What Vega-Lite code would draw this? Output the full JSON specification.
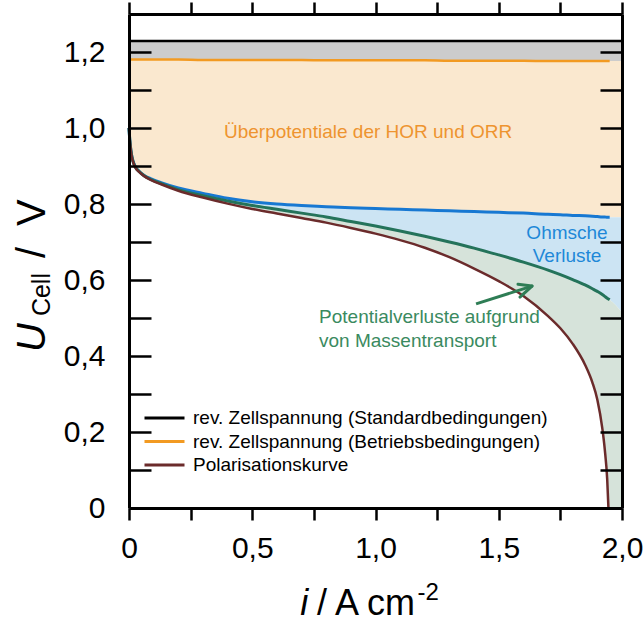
{
  "$schema": "https://vega.github.io/schema/vega-lite/v6.json",
  "width": 493,
  "height": 494,
  "autosize": {"type": "none"},
  "padding": {"left": 129, "top": 14, "right": 22, "bottom": 118},
  "config": {
    "view": {"stroke": null},
    "font": "Liberation Sans",
    "text": {"font": "Liberation Sans"}
  },
  "datasets": {
    "curves": [
      {"i": 0, "std": 1.229, "op": 1.18, "kin": 1.0, "ohm": 1.0, "pol": 1.0},
      {"i": 0.003, "std": 1.229, "op": 1.18, "kin": 0.97, "ohm": 0.97, "pol": 0.97},
      {"i": 0.006, "std": 1.229, "op": 1.18, "kin": 0.95, "ohm": 0.95, "pol": 0.949},
      {"i": 0.01, "std": 1.229, "op": 1.18, "kin": 0.931, "ohm": 0.93, "pol": 0.929},
      {"i": 0.015, "std": 1.229, "op": 1.18, "kin": 0.916, "ohm": 0.915, "pol": 0.914},
      {"i": 0.025, "std": 1.229, "op": 1.18, "kin": 0.899, "ohm": 0.898, "pol": 0.897},
      {"i": 0.04, "std": 1.229, "op": 1.18, "kin": 0.887, "ohm": 0.886, "pol": 0.885},
      {"i": 0.06, "std": 1.229, "op": 1.18, "kin": 0.876, "ohm": 0.875, "pol": 0.874},
      {"i": 0.09, "std": 1.229, "op": 1.18, "kin": 0.866, "ohm": 0.864, "pol": 0.863},
      {"i": 0.13, "std": 1.229, "op": 1.18, "kin": 0.856, "ohm": 0.854, "pol": 0.852},
      {"i": 0.2, "std": 1.229, "op": 1.18, "kin": 0.842, "ohm": 0.838, "pol": 0.835},
      {"i": 0.3, "std": 1.229, "op": 1.179, "kin": 0.828, "ohm": 0.822, "pol": 0.817},
      {"i": 0.4, "std": 1.229, "op": 1.179, "kin": 0.815, "ohm": 0.808, "pol": 0.801},
      {"i": 0.5, "std": 1.229, "op": 1.179, "kin": 0.806, "ohm": 0.796, "pol": 0.787},
      {"i": 0.6, "std": 1.229, "op": 1.179, "kin": 0.8, "ohm": 0.786, "pol": 0.775},
      {"i": 0.7, "std": 1.229, "op": 1.179, "kin": 0.796, "ohm": 0.776, "pol": 0.763},
      {"i": 0.8, "std": 1.229, "op": 1.178, "kin": 0.793, "ohm": 0.766, "pol": 0.751},
      {"i": 0.9, "std": 1.229, "op": 1.178, "kin": 0.79, "ohm": 0.754, "pol": 0.737},
      {"i": 1.0, "std": 1.229, "op": 1.178, "kin": 0.788, "ohm": 0.742, "pol": 0.722},
      {"i": 1.1, "std": 1.229, "op": 1.178, "kin": 0.786, "ohm": 0.729, "pol": 0.705},
      {"i": 1.2, "std": 1.229, "op": 1.178, "kin": 0.784, "ohm": 0.715, "pol": 0.685},
      {"i": 1.3, "std": 1.229, "op": 1.177, "kin": 0.782, "ohm": 0.7, "pol": 0.66},
      {"i": 1.4, "std": 1.229, "op": 1.177, "kin": 0.78, "ohm": 0.684, "pol": 0.63},
      {"i": 1.5, "std": 1.229, "op": 1.177, "kin": 0.778, "ohm": 0.666, "pol": 0.597},
      {"i": 1.6, "std": 1.229, "op": 1.177, "kin": 0.776, "ohm": 0.647, "pol": 0.558},
      {"i": 1.7, "std": 1.229, "op": 1.176, "kin": 0.773, "ohm": 0.626, "pol": 0.505},
      {"i": 1.75, "std": 1.229, "op": 1.176, "kin": 0.772, "ohm": 0.614, "pol": 0.473},
      {"i": 1.8, "std": 1.229, "op": 1.176, "kin": 0.77, "ohm": 0.601, "pol": 0.432},
      {"i": 1.85, "std": 1.229, "op": 1.176, "kin": 0.769, "ohm": 0.587, "pol": 0.377},
      {"i": 1.88, "std": 1.229, "op": 1.176, "kin": 0.768, "ohm": 0.577, "pol": 0.33},
      {"i": 1.9, "std": 1.229, "op": 1.176, "kin": 0.767, "ohm": 0.57, "pol": 0.285},
      {"i": 1.92, "std": 1.229, "op": 1.176, "kin": 0.766, "ohm": 0.562, "pol": 0.21},
      {"i": 1.93, "std": 1.229, "op": 1.176, "kin": 0.766, "ohm": 0.557, "pol": 0.155},
      {"i": 1.94, "std": 1.229, "op": 1.176, "kin": 0.765, "ohm": 0.552, "pol": 0.075},
      {"i": 1.945, "std": 1.229, "op": 1.176, "kin": 0.765, "ohm": 0.55, "pol": 0.0},
      {"i": 1.95, "std": 1.229, "op": 1.176, "kin": 0.765, "ohm": 0.548, "pol": 0.0},
      {"i": 2.0, "std": 1.229, "op": 1.176, "kin": 0.765, "ohm": 0.515, "pol": 0.0}
    ]
  },
  "data": {"name": "curves"},
  "layer": [
    {
      "layer": [
        {
          "mark": {"type": "area", "color": "#CCCCCC", "interpolate": "monotone"},
          "encoding": {
            "x": {
              "field": "i", "type": "quantitative",
              "scale": {"domain": [0, 2], "nice": false, "zero": false},
              "axis": {
                "orient": "bottom", "title": null, "zindex": 1, "grid": false,
                "values": [0, 0.25, 0.5, 0.75, 1, 1.25, 1.5, 1.75, 2],
                "domain": true, "domainColor": "black", "domainWidth": 3,
                "ticks": true, "tickColor": "black", "tickWidth": 2.5, "tickSize": 12,
                "labelExpr": "round(datum.value * 4) % 2 == 1 ? '' : datum.value == 0 ? '0' : replace(format(datum.value, '.1f'), '.', ',')",
                "labelFont": "Liberation Sans", "labelFontSize": 30, "labelColor": "black",
                "labelPadding": 13, "labelFlush": false, "labelOverlap": false
              }
            },
            "y": {
              "field": "op", "type": "quantitative",
              "scale": {"domain": [0, 1.3], "nice": false, "zero": false},
              "axis": {
                "orient": "left", "title": null, "zindex": 1, "grid": false,
                "values": [0, 0.1, 0.2, 0.3, 0.4, 0.5, 0.6, 0.7, 0.8, 0.9, 1.0, 1.1, 1.2],
                "domain": true, "domainColor": "black", "domainWidth": 3,
                "ticks": true, "tickColor": "black", "tickWidth": 2.5, "tickSize": -22,
                "labelExpr": "round(datum.value * 10) % 2 == 1 ? '' : datum.value == 0 ? '0' : replace(format(datum.value, '.1f'), '.', ',')",
                "labelFont": "Liberation Sans", "labelFontSize": 30, "labelColor": "black",
                "labelPadding": 46, "labelFlush": false, "labelOverlap": false
              }
            },
            "y2": {"field": "std"}
          }
        },
        {
          "mark": {"type": "area", "color": "#FAE8CF", "interpolate": "monotone"},
          "encoding": {
            "x": {"field": "i", "type": "quantitative"},
            "y": {"field": "kin", "type": "quantitative"},
            "y2": {"field": "op"}
          }
        },
        {
          "mark": {"type": "area", "color": "#CCE4F3", "interpolate": "monotone"},
          "encoding": {
            "x": {"field": "i", "type": "quantitative"},
            "y": {"field": "ohm", "type": "quantitative"},
            "y2": {"field": "kin"}
          }
        },
        {
          "mark": {"type": "area", "color": "#D6E3DA", "interpolate": "monotone"},
          "encoding": {
            "x": {"field": "i", "type": "quantitative"},
            "y": {"field": "pol", "type": "quantitative"},
            "y2": {"field": "ohm"}
          }
        },
        {
          "transform": [{"filter": "datum.i <= 1.95"}],
          "mark": {"type": "line", "color": "#1778D2", "strokeWidth": 3, "interpolate": "monotone"},
          "encoding": {
            "x": {"field": "i", "type": "quantitative"},
            "y": {"field": "kin", "type": "quantitative"}
          }
        },
        {
          "transform": [{"filter": "datum.i <= 1.95"}],
          "mark": {"type": "line", "color": "#24735A", "strokeWidth": 3, "interpolate": "monotone"},
          "encoding": {
            "x": {"field": "i", "type": "quantitative"},
            "y": {"field": "ohm", "type": "quantitative"}
          }
        },
        {
          "transform": [
            {"fold": ["std", "op", "pol"], "as": ["series", "U"]},
            {"filter": "datum.series == 'std' || (datum.series == 'op' && datum.i <= 1.95) || (datum.series == 'pol' && datum.i <= 1.945)"}
          ],
          "mark": {"type": "line", "strokeWidth": 2.5, "interpolate": "monotone"},
          "encoding": {
            "x": {"field": "i", "type": "quantitative"},
            "y": {"field": "U", "type": "quantitative"},
            "color": {
              "field": "series", "type": "nominal",
              "scale": {"domain": ["std", "op", "pol"], "range": ["#000000", "#F29A22", "#6B2B2B"]},
              "legend": {
                "orient": "none", "legendX": 14, "legendY": 394, "title": null, "padding": 0,
                "symbolType": "stroke", "symbolSize": 1600, "symbolStrokeWidth": 3,
                "clipHeight": 20, "rowPadding": 3.5, "labelOffset": 7, "labelLimit": 0,
                "labelFont": "Liberation Sans", "labelFontSize": 19, "labelColor": "black",
                "labelExpr": "datum.value == 'std' ? 'rev. Zellspannung (Standardbedingungen)' : datum.value == 'op' ? 'rev. Zellspannung (Betriebsbedingungen)' : 'Polarisationskurve'"
              }
            }
          }
        },
        {
          "data": {"values": [{}]},
          "mark": {"type": "text", "text": "Überpotentiale der HOR und ORR", "color": "#EE9430", "fontSize": 19, "align": "center", "baseline": "middle"},
          "encoding": {"x": {"datum": 0.97}, "y": {"datum": 0.989}}
        },
        {
          "data": {"values": [{}]},
          "mark": {"type": "text", "text": ["Ohmsche", "Verluste"], "lineHeight": 23, "color": "#1E88D8", "fontSize": 19, "align": "center", "baseline": "alphabetic"},
          "encoding": {"x": {"datum": 1.777}, "y": {"datum": 0.708}}
        },
        {
          "data": {"values": [{}]},
          "mark": {"type": "text", "text": ["Potentialverluste aufgrund", "von Massentransport"], "lineHeight": 24, "color": "#3A8A60", "fontSize": 19, "align": "left", "baseline": "alphabetic"},
          "encoding": {"x": {"datum": 0.771}, "y": {"datum": 0.487}}
        },
        {
          "data": {"values": [{}]},
          "mark": {"type": "rule", "color": "#2E7D55", "strokeWidth": 3},
          "encoding": {"x": {"datum": 1.408}, "y": {"datum": 0.537}, "x2": {"datum": 1.635}, "y2": {"datum": 0.584}}
        },
        {
          "data": {"values": [{}]},
          "mark": {"type": "rule", "color": "#2E7D55", "strokeWidth": 3, "strokeCap": "round"},
          "encoding": {"x": {"datum": 1.578}, "y": {"datum": 0.589}, "x2": {"datum": 1.635}, "y2": {"datum": 0.584}}
        },
        {
          "data": {"values": [{}]},
          "mark": {"type": "rule", "color": "#2E7D55", "strokeWidth": 3, "strokeCap": "round"},
          "encoding": {"x": {"datum": 1.586}, "y": {"datum": 0.555}, "x2": {"datum": 1.635}, "y2": {"datum": 0.584}}
        },
        {
          "data": {"values": [{}]},
          "mark": {"type": "text", "text": "i", "fontStyle": "italic", "fontSize": 36, "color": "black", "align": "left", "baseline": "alphabetic"},
          "encoding": {"x": {"datum": 0.695}, "y": {"datum": -0.282}}
        },
        {
          "data": {"values": [{}]},
          "mark": {"type": "text", "text": "/ A cm", "fontSize": 36, "color": "black", "align": "left", "baseline": "alphabetic"},
          "encoding": {"x": {"datum": 0.763}, "y": {"datum": -0.282}}
        },
        {
          "data": {"values": [{}]},
          "mark": {"type": "text", "text": "-2", "fontSize": 24, "color": "black", "align": "left", "baseline": "alphabetic"},
          "encoding": {"x": {"datum": 1.17}, "y": {"datum": -0.242}}
        },
        {
          "data": {"values": [{}]},
          "mark": {"type": "text", "text": "U", "fontStyle": "italic", "fontSize": 40, "color": "black", "angle": 270, "align": "left", "baseline": "alphabetic"},
          "encoding": {"x": {"datum": -0.341}, "y": {"datum": 0.4105}}
        },
        {
          "data": {"values": [{}]},
          "mark": {"type": "text", "text": "Cell", "fontSize": 25, "color": "black", "angle": 270, "align": "left", "baseline": "alphabetic"},
          "encoding": {"x": {"datum": -0.3205}, "y": {"datum": 0.505}}
        },
        {
          "data": {"values": [{}]},
          "mark": {"type": "text", "text": "/", "fontSize": 40, "color": "black", "angle": 270, "align": "left", "baseline": "alphabetic"},
          "encoding": {"x": {"datum": -0.341}, "y": {"datum": 0.658}}
        },
        {
          "data": {"values": [{}]},
          "mark": {"type": "text", "text": "V", "fontSize": 40, "color": "black", "angle": 270, "align": "left", "baseline": "alphabetic"},
          "encoding": {"x": {"datum": -0.341}, "y": {"datum": 0.742}}
        }
      ]
    },
    {
      "mark": {"type": "point", "opacity": 0},
      "encoding": {
        "x": {
          "field": "i", "type": "quantitative",
          "axis": {
            "orient": "top", "title": null, "zindex": 1, "grid": false, "labels": false,
            "values": [0, 0.25, 0.5, 0.75, 1, 1.25, 1.5, 1.75, 2],
            "domain": true, "domainColor": "black", "domainWidth": 3,
            "ticks": true, "tickColor": "black", "tickWidth": 2.5, "tickSize": 12
          }
        },
        "y": {
          "field": "pol", "type": "quantitative",
          "axis": {
            "orient": "right", "title": null, "zindex": 1, "grid": false, "labels": false,
            "values": [0, 0.1, 0.2, 0.3, 0.4, 0.5, 0.6, 0.7, 0.8, 0.9, 1.0, 1.1, 1.2],
            "domain": true, "domainColor": "black", "domainWidth": 3,
            "ticks": true, "tickColor": "black", "tickWidth": 2.5, "tickSize": -22
          }
        }
      }
    }
  ],
  "resolve": {"axis": {"x": "independent", "y": "independent"}}
}
